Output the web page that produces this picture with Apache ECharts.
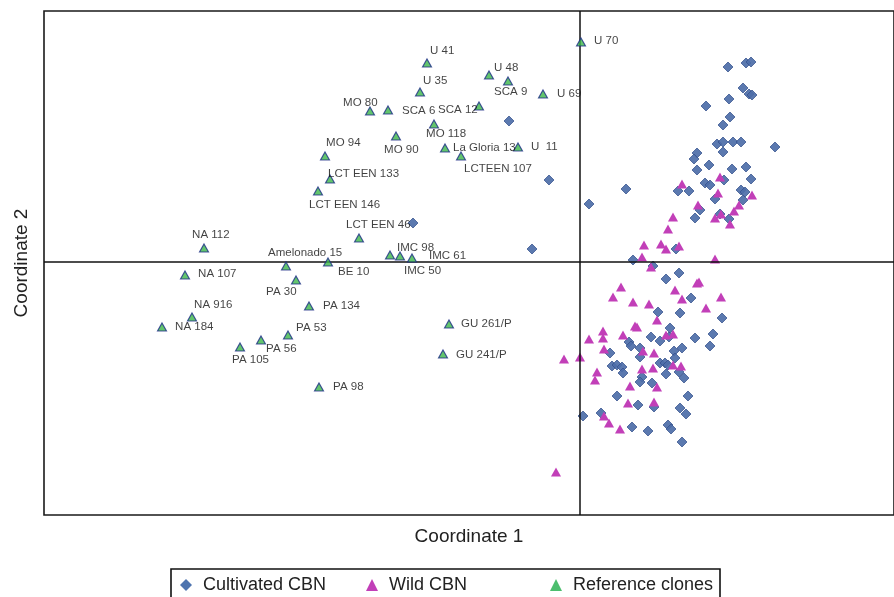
<!DOCTYPE html>
<html>
<head>
<meta charset="utf-8">
<script src="https://cdn.jsdelivr.net/npm/echarts@6/dist/echarts.min.js"></script>
<style>html,body{margin:0;padding:0;background:#fff}#c{width:894px;height:597px}</style>
</head>
<body>
<div id="c"></div>
<script>
// ---- data (coordinate units) ----
const cultivatedX = [-0.71,-0.31,0.09,-0.48,-1.67,0.46,1.48,1.66,1.71,1.63,1.69,1.72,1.49,1.26,1.50,1.43,1.37,1.43,1.53,1.61,1.43,1.95,1.17,1.14,1.29,1.17,1.52,1.66,1.71,1.44,1.25,1.30,0.98,1.09,1.61,1.65,1.35,1.63,1.20,1.15,1.40,1.49,0.96,0.53,0.73,0.99,0.86,1.11,0.78,1.00,1.42,0.90,0.71,0.80,0.89,1.15,1.33,1.30,0.49,0.51,1.02,0.30,0.94,0.60,0.95,0.32,0.37,0.42,0.43,0.80,0.85,0.88,0.99,0.86,0.62,1.04,0.60,0.72,0.37,1.08,0.58,0.74,1.00,1.06,0.03,0.21,0.52,0.68,0.88,0.91,1.02,0.60];
const cultivatedY = [1.41,0.82,0.58,0.13,0.39,0.73,1.95,1.99,2.00,1.74,1.68,1.67,1.63,1.56,1.45,1.37,1.18,1.20,1.20,1.20,1.10,1.15,1.09,1.03,0.97,0.92,0.93,0.95,0.83,0.82,0.79,0.77,0.71,0.71,0.72,0.70,0.63,0.62,0.52,0.44,0.48,0.43,0.13,0.02,-0.04,-0.11,-0.17,-0.36,-0.50,-0.51,-0.56,-0.66,-0.75,-0.79,-0.75,-0.76,-0.72,-0.84,-0.80,-0.84,-0.86,-0.91,-0.89,-0.95,-0.96,-1.04,-1.03,-1.05,-1.11,-1.01,-1.01,-1.03,-1.10,-1.12,-1.15,-1.16,-1.20,-1.21,-1.34,-1.34,-1.43,-1.45,-1.46,-1.52,-1.54,-1.51,-1.65,-1.69,-1.63,-1.67,-1.80,-0.86];

const wildX = [1.40,1.02,1.38,1.72,1.18,1.59,1.54,0.93,1.35,1.41,1.50,0.88,0.64,0.81,0.86,0.99,0.62,1.35,0.71,1.17,1.19,0.41,0.95,0.33,1.02,1.41,0.53,0.69,1.26,0.77,0.55,0.57,0.23,0.23,0.09,0.43,0.86,0.93,0.24,0.63,0.74,-0.16,0.00,0.93,1.01,0.62,0.73,0.17,0.15,0.50,0.77,0.48,0.74,0.24,0.29,0.40,-0.24];
const wildY = [0.85,0.78,0.69,0.67,0.57,0.57,0.51,0.45,0.44,0.48,0.38,0.33,0.17,0.18,0.13,0.16,0.05,0.03,-0.05,-0.21,-0.20,-0.25,-0.28,-0.35,-0.37,-0.35,-0.40,-0.42,-0.46,-0.58,-0.64,-0.65,-0.69,-0.76,-0.77,-0.73,-0.73,-0.72,-0.87,-0.89,-0.91,-0.97,-0.95,-1.03,-1.04,-1.07,-1.06,-1.10,-1.18,-1.24,-1.25,-1.41,-1.40,-1.54,-1.61,-1.67,-2.10];

const refNames = ['U 41','U 35','MO 80','SCA 6','MO 94','LCT EEN 133','LCT EEN 146','MO 90','MO 118','SCA 12','U 48','SCA 9','U 69','U 70','La Gloria 13','U  11','LCTEEN 107','NA 112','LCT EEN 46','IMC 98','IMC 50','IMC 61','Amelonado 15','BE 10','NA 107','PA 30','PA 134','NA 916','NA 184','PA 53','PA 56','PA 105','PA 98','GU 261/P','GU 241/P'];
const refX = [-1.53,-1.60,-2.10,-1.92,-2.55,-2.50,-2.62,-1.84,-1.46,-1.01,-0.91,-0.72,-0.37,0.01,-1.35,-0.62,-1.19,-3.76,-2.21,-1.90,-1.80,-1.68,-2.94,-2.52,-3.95,-2.84,-2.71,-3.88,-4.18,-2.92,-3.19,-3.40,-2.61,-1.31,-1.37];
const refY = [1.99,1.70,1.51,1.52,1.06,0.83,0.71,1.26,1.38,1.56,1.87,1.81,1.68,2.20,1.14,1.15,1.06,0.14,0.24,0.07,0.06,0.04,-0.04,0.00,-0.13,-0.18,-0.44,-0.55,-0.65,-0.73,-0.78,-0.85,-1.25,-0.62,-0.92];

const seriesNames = ['Cultivated CBN','Wild CBN','Reference clones'];
const axisNames = ['Coordinate 1','Coordinate 2'];

// ---- label placement (pixel offsets from right side of marker) ----
const labelOffsets = {
  'U 41':[-2,-12],'U 35':[-2,-11],'MO 80':[-32,-8],'SCA 6':[9,1],'MO 94':[-4,-13],
  'LCT EEN 133':[-7,-5],'LCT EEN 146':[-14,14],'MO 90':[-17,14],'MO 118':[-13,10],
  'SCA 12':[-46,4],'U 48':[0,-7],'SCA 9':[-19,11],'U 69':[9,0],'U 70':[8,-1],
  'La Gloria 13':[3,0],'U  11':[8,0],'LCTEEN 107':[-2,13],'NA 112':[-17,-13],
  'LCT EEN 46':[-18,-13],'IMC 98':[2,-7],'IMC 50':[-1,15],'IMC 61':[12,-2],
  'Amelonado 15':[-23,-13],'BE 10':[5,10],'NA 107':[8,-1],'PA 30':[-35,12],
  'PA 134':[9,0],'NA 916':[-3,-12],'NA 184':[8,0],'PA 53':[3,-7],'PA 56':[0,9],
  'PA 105':[-13,13],'PA 98':[9,0],'GU 261/P':[7,0],'GU 241/P':[8,1]
};

const FONT = '"Liberation Sans", Arial, Helvetica, sans-serif';
const pair = (xs, ys) => xs.map((x, i) => [x, ys[i]]);

const refData = refNames.map((n, i) => ({ name: n, value: [refX[i], refY[i]] }));

// legend column layout
const legendLefts = [180, 366, 550];
const legendIcons = ['diamond', 'triangle', 'triangle'];
const legendColors = ['#3f68a8', '#c23fb8', '#1fae4a'];
const legends = seriesNames.map((n, i) => ({
  left: legendLefts[i], top: 576, padding: 0,
  itemWidth: 12, itemHeight: 12,
  textStyle: { fontSize: 18, color: '#222', fontFamily: FONT, padding: [0, 0, 0, 6] },
  data: [{ name: n, icon: legendIcons[i], itemStyle: { color: legendColors[i], borderWidth: 0 } }]
}));

const chart = echarts.init(document.getElementById('c'), null, { renderer: 'canvas' });
chart.setOption({
  animation: false,
  backgroundColor: '#fff',
  textStyle: { fontFamily: FONT },
  grid: { left: 44, top: 11, right: -3, bottom: 82, show: true, borderColor: '#1a1a1a', borderWidth: 1.6, backgroundColor: 'transparent' },
  xAxis: {
    type: 'value', min: -5.36, max: 3.14,
    name: axisNames[0], nameLocation: 'middle', nameGap: 12,
    nameTextStyle: { fontSize: 19, color: '#222', fontFamily: FONT, verticalAlign: 'top' },
    axisLine: { show: false }, axisTick: { show: false }, axisLabel: { show: false }, splitLine: { show: false }
  },
  yAxis: {
    type: 'value', min: -2.53, max: 2.51,
    name: axisNames[1], nameLocation: 'middle', nameGap: 13,
    nameTextStyle: { fontSize: 19, color: '#222', fontFamily: FONT },
    axisLine: { show: false }, axisTick: { show: false }, axisLabel: { show: false }, splitLine: { show: false }
  },
  legend: legends,
  graphic: [{
    type: 'rect', silent: true,
    shape: { x: 171, y: 569, width: 549, height: 40 },
    style: { fill: 'none', stroke: '#111', lineWidth: 1.6 }
  }],
  series: [
    {
      name: 'zero', type: 'scatter', data: [], silent: true, z: 1,
      markLine: {
        silent: true, symbol: ['none', 'none'], animation: false,
        label: { show: false },
        lineStyle: { color: '#111', width: 1.5, type: 'solid' },
        data: [{ xAxis: 0 }, { yAxis: 0 }]
      }
    },
    {
      name: seriesNames[0], type: 'scatter', symbol: 'diamond', symbolSize: 10, z: 3,
      itemStyle: { color: '#4d6ea8', borderColor: '#34508c', borderWidth: 0.8, opacity: 0.92 },
      data: pair(cultivatedX, cultivatedY)
    },
    {
      name: seriesNames[1], type: 'scatter', symbol: 'triangle', symbolSize: [10, 9], z: 4,
      itemStyle: { color: '#c23fb8', opacity: 1 },
      data: pair(wildX, wildY)
    },
    {
      name: seriesNames[2], type: 'scatter', symbol: 'triangle', symbolSize: [9, 8], z: 5,
      itemStyle: { color: '#3cb648', borderColor: '#1c2c86', borderWidth: 1.1 },
      label: {
        show: true, position: 'right', distance: 0,
        formatter: p => p.name,
        fontSize: 11.5, color: '#111', fontFamily: FONT
      },
      labelLayout: p => {
        const o = labelOffsets[refNames[p.dataIndex]] || [0, 0];
        return { dx: o[0], dy: o[1], hideOverlap: false };
      },
      data: refData
    }
  ]
});
</script>
</body>
</html>
